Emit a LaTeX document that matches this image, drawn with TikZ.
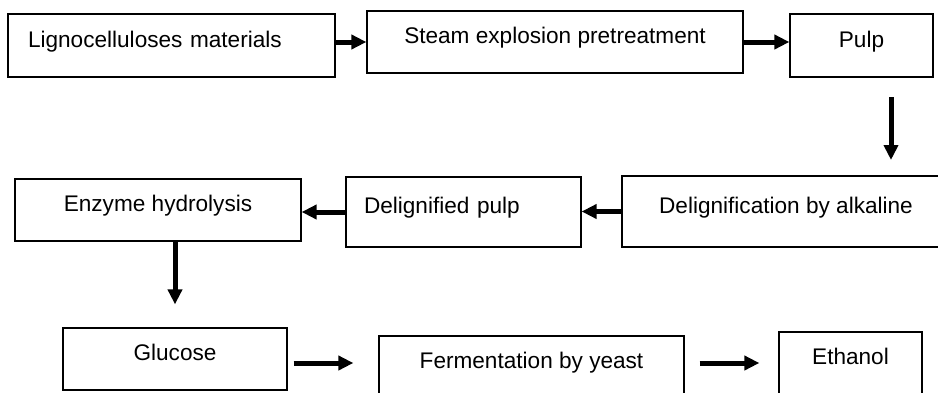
\documentclass[tikz,border=0pt]{standalone}
\usepackage{fontspec}
\setmainfont{Liberation Sans}
\usetikzlibrary{arrows.meta}
\tikzset{
  box/.style={draw, line width=0.6pt, inner sep=0pt, text height=8.1pt, text depth=6.6pt,
    font=\fontsize{11.3}{13}\selectfont},
  arr/.style={line width=2.5pt, -{Triangle[length=7.5pt,width=7pt]}}
}
\begin{document}
\begin{tikzpicture}[x=0.5pt,y=-0.5pt]
    \useasboundingbox (0,0) rectangle (938,392);
    \clip (0,0) rectangle (938,392);
    % first row
    \node[box, text width=143.5pt, inner xsep=10pt, align=left, minimum height=31.5pt] (lig) at (171.5,45.5) {Lignocelluloses materials};
    \node[box, minimum width=188pt, minimum height=31pt] (steam) at (555,42) {Steam explosion pretreatment};
    \node[box, minimum width=71.5pt, minimum height=31.5pt] (pulp) at (861.5,45.5) {Pulp};
    % second row
    \node[box, minimum width=164pt, minimum height=35.5pt] (delig) at (786,211.5) {Delignification by alkaline};
    \node[box, text width=99.5pt, inner xsep=9pt, align=left, minimum height=35pt] (dpulp) at (463.5,212) {Delignified pulp};
    \node[box, minimum width=143pt, minimum height=31pt] (enz) at (158,210) {Enzyme hydrolysis};
    % third row
    \node[box, minimum width=112pt, minimum height=31pt] (glu) at (175,359) {Glucose};
    \node[box, minimum width=152.5pt, minimum height=31pt] (ferm) at (531.5,367) {Fermentation by yeast};
    \node[box, minimum width=71.5pt, minimum height=31pt] (eth) at (850.5,363) {Ethanol};
    \coordinate (pd1) at (891,97);
    \coordinate (pd2) at (891,160);
    \draw[arr] (lig.east |- steam.west) -- (steam.west);
    \draw[arr] (steam.east) -- (pulp.west |- steam.east);
    \draw[arr] (pd1) -- (pd2);
    \draw[arr] (delig.west) -- (dpulp.east |- delig.west);
    \draw[arr] (dpulp.west) -- (enz.east |- dpulp.west);
    \draw[arr] (enz.south -| glu.north) -- ([yshift=11.5pt]glu.north);
    \draw[arr] ([xshift=3pt]glu.east |- eth.west) -- ([xshift=-12.5pt]ferm.west |- eth.west);
    \draw[arr] ([xshift=7.5pt]ferm.east |- eth.west) -- ([xshift=-9.5pt]eth.west);
\end{tikzpicture}
\end{document}
